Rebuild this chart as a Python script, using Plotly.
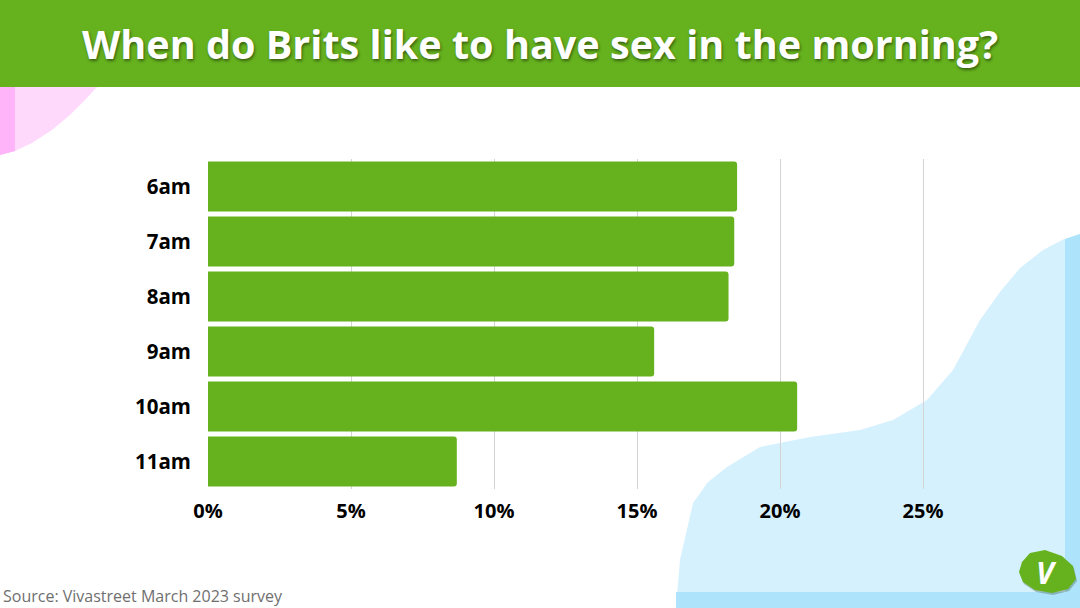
import plotly.graph_objects as go

times = ["6am", "7am", "8am", "9am", "10am", "11am"]
shares = [18.5, 18.4, 18.2, 15.6, 20.6, 8.7]
tick_vals = [0, 5, 10, 15, 20, 25]
tick_text = ["0%", "5%", "10%", "15%", "20%", "25%"]

W, H = 1080, 608
GREEN = "#66b21e"

def px(x):
    return x / W

def py(y):
    return 1 - y / H

def path(points, close=True):
    s = "M " + " L ".join(f"{px(x):.4f},{py(y):.4f}" for x, y in points)
    return s + (" Z" if close else "")

fig = go.Figure(go.Bar(
    x=shares, y=times, orientation="h",
    marker=dict(color=GREEN, line=dict(width=0), cornerradius=3),
    hoverinfo="skip",
))

shapes = []
# pink blob top-left
pink_pts = [(0, 87), (97, 87), (85, 100), (70, 115), (52, 130), (32, 143), (15, 151), (0, 155)]
shapes.append(dict(type="path", path=path(pink_pts), xref="paper", yref="paper",
                   fillcolor="#ffd9fc", line=dict(width=0), layer="below"))
shapes.append(dict(type="path", path=path([(0, 87), (15, 87), (15, 151), (0, 155)]),
                   xref="paper", yref="paper", fillcolor="#ffb3f9", line=dict(width=0), layer="below"))
# blue blob bottom-right
blue_pts = [(676, 608), (680, 560), (693, 503), (708, 482), (727, 467), (760, 447), (810, 437),
            (860, 430), (893, 420), (927, 400), (953, 370), (980, 320), (1000, 292), (1020, 268),
            (1043, 250), (1062, 240), (1080, 234), (1080, 608)]
shapes.append(dict(type="path", path=path(blue_pts), xref="paper", yref="paper",
                   fillcolor="#d6f1fe", line=dict(width=0), layer="below"))
shapes.append(dict(type="path", path=path([(1065, 239), (1080, 234), (1080, 608), (1065, 608)]),
                   xref="paper", yref="paper", fillcolor="#ade4fc", line=dict(width=0), layer="below"))
shapes.append(dict(type="path", path=path([(676, 592), (1080, 592), (1080, 608), (676, 608)]),
                   xref="paper", yref="paper", fillcolor="#ade4fc", line=dict(width=0), layer="below"))
# title band
shapes.append(dict(type="rect", x0=0, x1=1, y0=py(87), y1=1, xref="paper", yref="paper",
                   fillcolor=GREEN, line=dict(width=0), layer="below"))
# logo blob (shadow + body)
logo_pts = [(1022, 562), (1030, 553), (1045, 550), (1062, 556), (1073, 566), (1076, 579),
            (1068, 589), (1052, 593), (1035, 590), (1023, 582), (1019, 572)]
shadow_pts = [(x + 1, y + 2) for x, y in logo_pts]
shapes.append(dict(type="path", path=path(shadow_pts), xref="paper", yref="paper",
                   fillcolor="rgba(60,90,60,0.35)", line=dict(width=0), layer="above"))
shapes.append(dict(type="path", path=path(logo_pts), xref="paper", yref="paper",
                   fillcolor=GREEN, line=dict(width=0), layer="above"))

annotations = [
    dict(text="<b>When do Brits like to have sex in the morning?</b>", x=0.5, y=py(44),
         xref="paper", yref="paper", xanchor="center", yanchor="middle", showarrow=False,
         font=dict(family="Open Sans", size=39.6, color="white",
                   shadow="1px 2px 3px rgba(0,0,0,0.45)")),
    dict(text="Source: Vivastreet March 2023 survey", x=px(1), y=py(596),
         xref="paper", yref="paper", xanchor="left", yanchor="middle", showarrow=False,
         font=dict(family="Open Sans", size=16, color="#6f6f6f")),
    dict(text="<b><i>V</i></b>", x=px(1046), y=py(572), xref="paper", yref="paper",
         xanchor="center", yanchor="middle", showarrow=False,
         font=dict(family="Open Sans", size=30, color="white")),
]

fig.update_layout(
    width=W, height=H, autosize=False,
    margin=dict(l=0, r=0, t=0, b=0, pad=0),
    paper_bgcolor="white", plot_bgcolor="rgba(0,0,0,0)",
    bargap=0.09,
    showlegend=False,
    shapes=shapes,
    annotations=annotations,
    xaxis=dict(domain=[px(208), px(951.6)], range=[0, 26], tickvals=tick_vals, ticktext=tick_text,
               automargin=False,
               showgrid=True, gridcolor="#d4d4d4", gridwidth=1, zeroline=False, showline=False,
               ticks="", ticklabelstandoff=8,
               tickfont=dict(family="Open Sans", size=20, color="black", weight="bold")),
    yaxis=dict(domain=[py(489), py(159)], autorange="reversed", categoryorder="array",
               categoryarray=times, automargin=False,
               showgrid=False, zeroline=False, showline=False, ticks="",
               ticklabelstandoff=16,
               tickfont=dict(family="Open Sans", size=20.5, color="black", weight="bold")),
)

post = (
    "document.documentElement.style.margin='0';"
    "document.body.style.margin='0';document.body.style.padding='0';"
    "document.body.style.overflow='hidden';"
)

fig.write_html("out.html", post_script=post,
               config={"displayModeBar": False})
